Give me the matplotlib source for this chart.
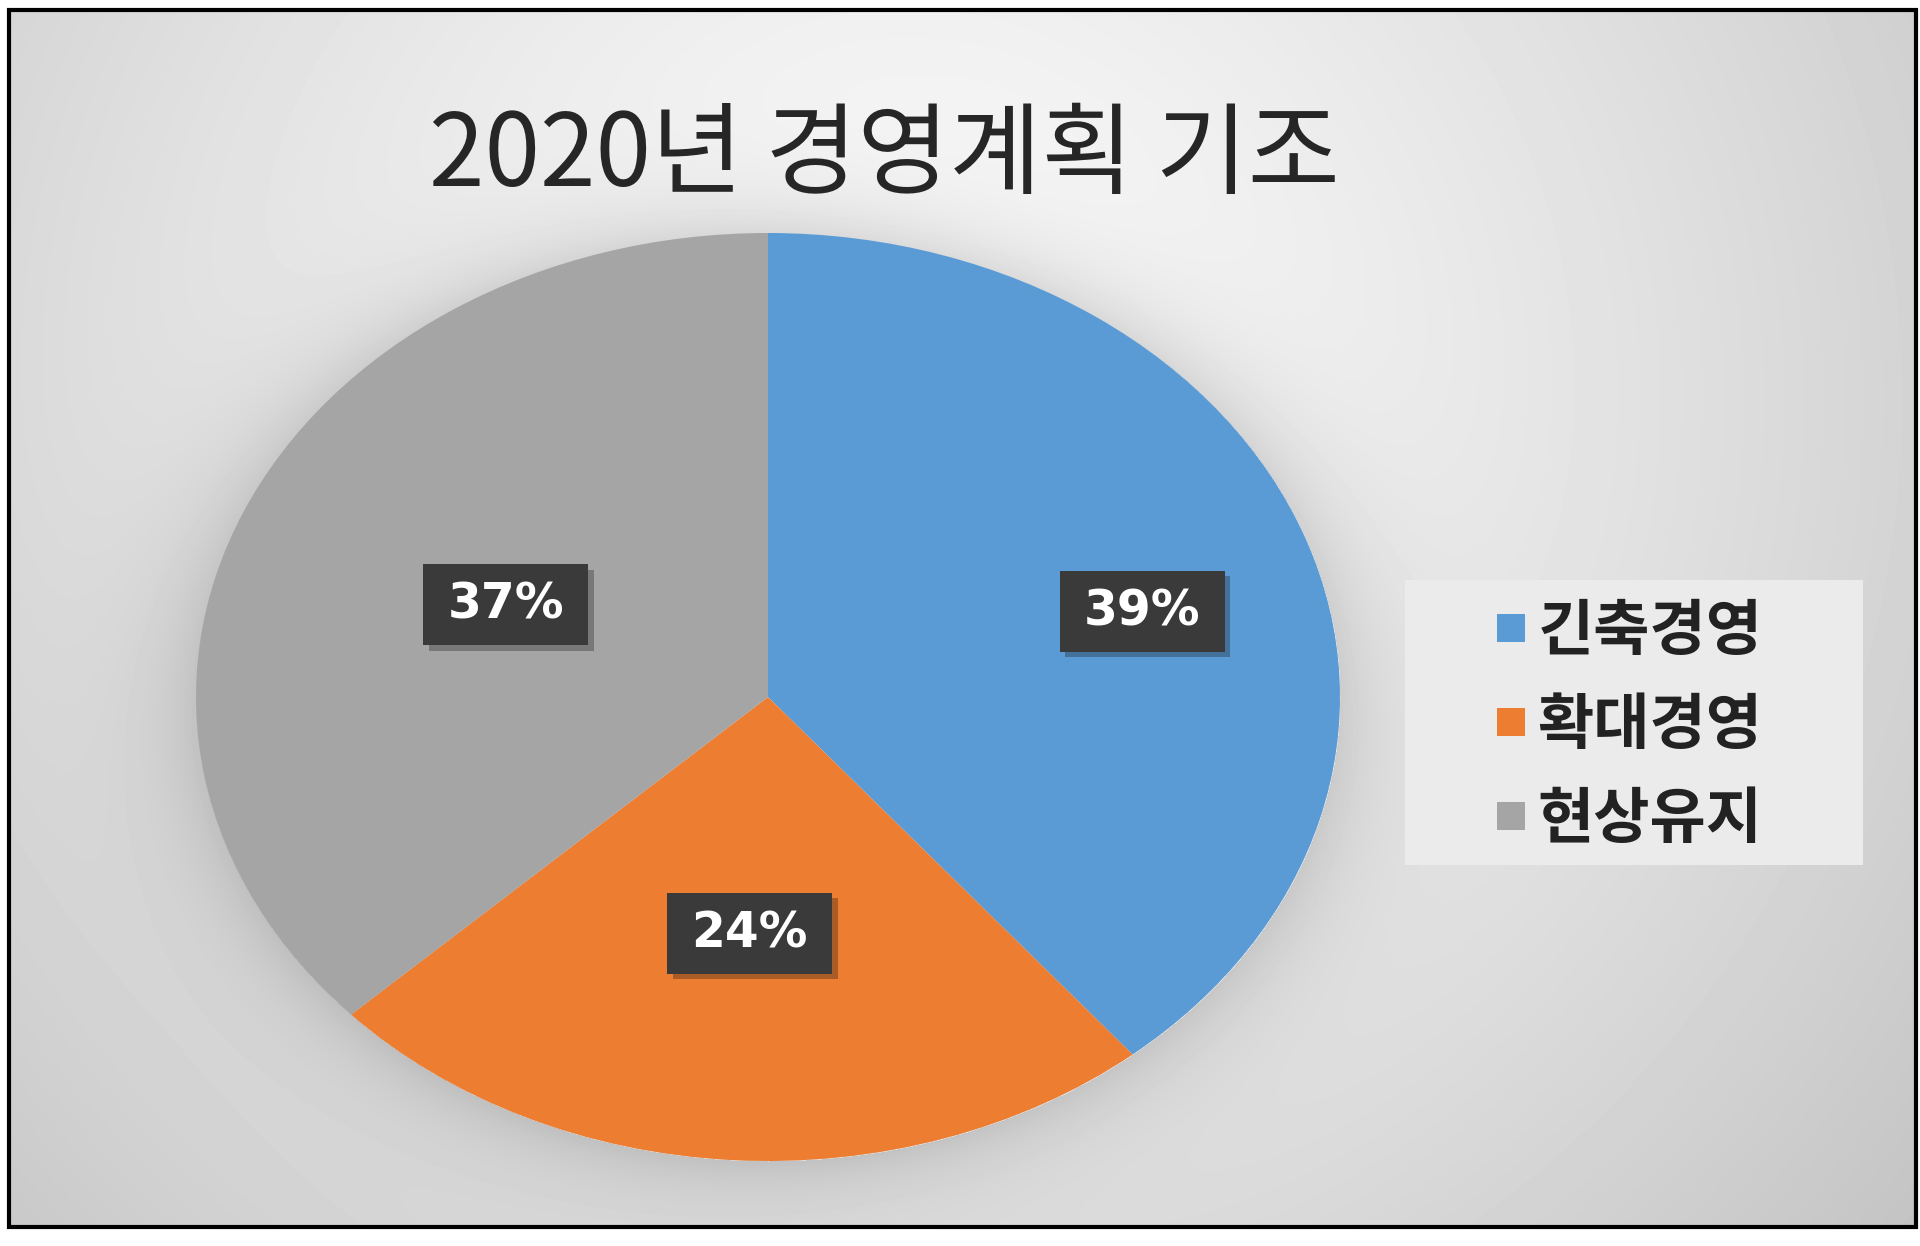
import numpy as np
import matplotlib.pyplot as plt
import matplotlib.patheffects as pe
from matplotlib.patches import Rectangle

plt.rcParams['font.family'] = ['Noto Sans CJK KR', 'DejaVu Sans']

title = '2020년 경영계획 기조'
categories = ['긴축경영', '확대경영', '현상유지']
shares = [39, 24, 37]
colors = ['#5B9BD5', '#ED7D31', '#A5A5A5']

W, H = 1920, 1246
fig = plt.figure(figsize=(W / 100, H / 100), dpi=100)

# pie ellipse in pixels (y from top)
cx, cy, rx, ry = 768, 697, 572, 464

# fondo: degradado radial + sombra suave del pastel
yy, xx = np.mgrid[0:H, 0:W]
r = np.hypot(xx - 900, yy - 400) / 1100
bg = 252 - 45 * r ** 1.3
rho = np.hypot((xx - cx) / rx, (yy - cy) / ry)
d = np.clip(rho - 1, 0, None) * 520
bg -= 30 * np.exp(-d / 50) * (rho > 1)
outside = (xx < 9) | (xx > 1916) | (yy < 10) | (yy > 1227)
bg[outside] = 255
bg = np.clip(bg, 0, 255) / 255

bg_ax = fig.add_axes([0, 0, 1, 1])
bg_ax.imshow(bg, cmap='gray', vmin=0, vmax=1, extent=(0, W, H, 0),
             aspect='auto', interpolation='bilinear')
bg_ax.set_xlim(0, W)
bg_ax.set_ylim(H, 0)
bg_ax.axis('off')
bg_ax.add_patch(Rectangle((9, 10), 1907, 1217, fill=False, ec='black', lw=3))
# caja de la leyenda
bg_ax.add_patch(Rectangle((1405, 580), 458, 285, fc='#ebebeb', ec='none'))

ax = fig.add_axes([(cx - rx) / W, 1 - (cy + ry) / H, 2 * rx / W, 2 * ry / H])
wedges, _ = ax.pie(shares, colors=colors, startangle=90, counterclock=False,
                   radius=1, wedgeprops=dict(linewidth=0))
ax.set_aspect('auto')
ax.set_xlim(-1, 1)
ax.set_ylim(-1, 1)
ax.axis('off')

# etiquetas de porcentaje en cajas oscuras
label_dist = [0.68, 0.51, 0.50]
label_turn = [-4, 0, 0]
bw, bh = 165 / rx, 81 / ry
for w, v, dist, turn in zip(wedges, shares, label_dist, label_turn):
    ang = np.deg2rad((w.theta1 + w.theta2) / 2 + turn)
    x, y = dist * np.cos(ang), dist * np.sin(ang)
    box = Rectangle((x - bw / 2, y - bh / 2), bw, bh, fc='#3a3a3a', ec='none', zorder=3)
    box.set_path_effects([pe.SimplePatchShadow(offset=(4, -4), alpha=0.3), pe.Normal()])
    ax.add_patch(box)
    ax.text(x, y, f'{v}%', ha='center', va='center', color='white',
            fontsize=35, fontweight='bold', family='DejaVu Sans', zorder=4)

leg = fig.legend(wedges, categories, loc='center',
                 bbox_to_anchor=(1630 / W, 1 - 726 / H),
                 prop=dict(family=['Noto Sans CJK KR'], weight='bold', size=44),
                 frameon=False, handlelength=0.46, handleheight=0.33,
                 handletextpad=0.2, labelspacing=0.53, borderpad=0, borderaxespad=0)
for t in leg.get_texts():
    t.set_color('#222222')

fig.text(884 / W, 1 - 157 / H, title, ha='center', va='center',
         fontsize=72, color='#262626')

fig.savefig('out.png', dpi=100)
